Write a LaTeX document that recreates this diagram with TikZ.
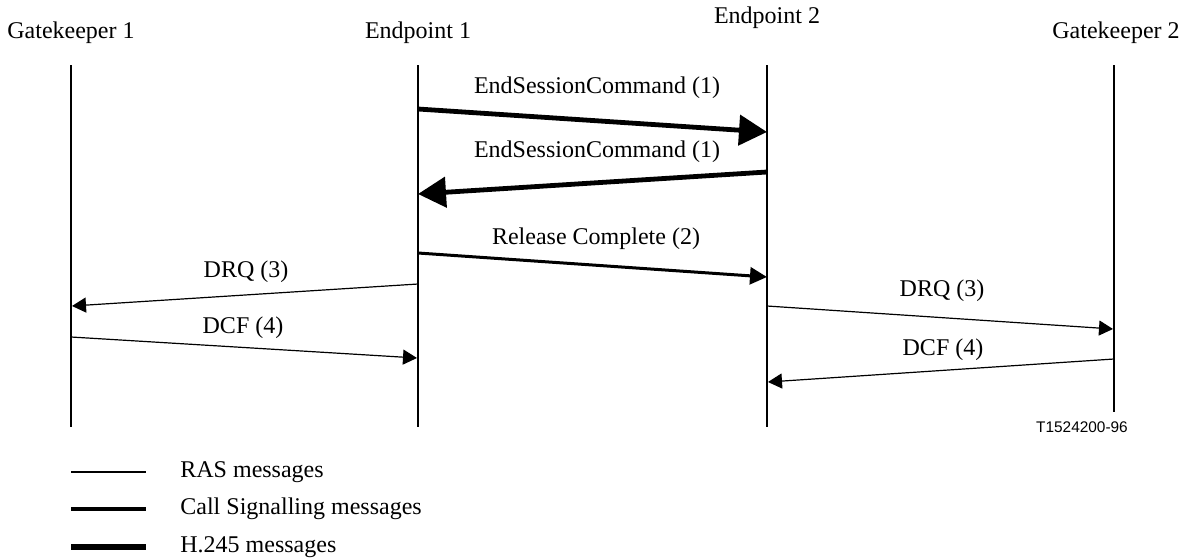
\documentclass[tikz,border=0pt]{standalone}
\usepackage{fontspec}
\setmainfont{Liberation Serif}
\newfontfamily\figsans{Liberation Sans}
\usetikzlibrary{arrows.meta}

\begin{document}
\begin{tikzpicture}[
  x=0.5pt,y=-0.5pt,
  every node/.style={font=\fontsize{12}{14}\selectfont,inner sep=0pt,align=center},
  life/.style={line width=1pt},
  ras/.style={line width=0.6pt,-{Triangle[length=7pt,width=7.5pt]}},
  sig/.style={line width=1.5pt,-{Triangle[length=8.5pt,width=8.5pt]}},
  ctl/.style={line width=2.4pt,-{Triangle[length=14pt,width=15pt]}},
  rasline/.style={line width=0.6pt},
  sigline/.style={line width=1.6pt},
  ctlline/.style={line width=2.6pt}
]
\useasboundingbox (0,0) rectangle (1190,558);

% entities
\node (gk1) at (71,33) {Gatekeeper 1};
\node (ep1) at (418,33) {Endpoint 1};
\node (ep2) at (767,18) {Endpoint 2};
\node (gk2) at (1116,33) {Gatekeeper 2};

% lifelines
\coordinate (gk1top) at (71,65);   \coordinate (gk1bot) at (71,427);
\coordinate (ep1top) at (418,65);  \coordinate (ep1bot) at (418,427);
\coordinate (ep2top) at (767,65);  \coordinate (ep2bot) at (767,427);
\coordinate (gk2top) at (1114,65); \coordinate (gk2bot) at (1114,412);
\draw[life] (gk1top) -- (gk1bot);
\draw[life] (ep1top) -- (ep1bot);
\draw[life] (ep2top) -- (ep2bot);
\draw[life] (gk2top) -- (gk2bot);

% message end points
\coordinate (esc1a) at (418,109); \coordinate (esc1b) at (767,132);
\coordinate (esc2a) at (767,172); \coordinate (esc2b) at (418,194);
\coordinate (rela) at (418,253);  \coordinate (relb) at (767,277);
\coordinate (drq1a) at (418,284); \coordinate (drq1b) at (72,306);
\coordinate (dcf1a) at (71,337);  \coordinate (dcf1b) at (417,358);
\coordinate (drq2a) at (767,306); \coordinate (drq2b) at (1113,329);
\coordinate (dcf2a) at (1114,359); \coordinate (dcf2b) at (768,382);

\draw[ctl] (esc1a) -- (esc1b);
\draw[ctl] (esc2a) -- (esc2b);
\draw[sig] (rela) -- (relb);
\draw[ras] (drq1a) -- (drq1b);
\draw[ras] (dcf1a) -- (dcf1b);
\draw[ras] (drq2a) -- (drq2b);
\draw[ras] (dcf2a) -- (dcf2b);

% message labels
\node (esc1) at (597,88) {EndSessionCommand (1)};
\node (esc2) at (597,152) {EndSessionCommand (1)};
\node (rel) at (596,239) {Release Complete (2)};
\node (drq1) at (246,272) {DRQ (3)};
\node (dcf1) at (243,328) {DCF (4)};
\node (drq2) at (942,291) {DRQ (3)};
\node (dcf2) at (943,350) {DCF (4)};
\node[font=\figsans\fontsize{7.7}{9}\selectfont] (fig) at (1082,427) {T1524200-96};

% legend
\draw[rasline] (71,472) -- (146,472);
\draw[sigline] (71,509) -- (146,509);
\draw[ctlline] (71,547) -- (146,547);
\node[anchor=west] (kras) at (180,472) {RAS messages};
\node[anchor=west] (ksig) at (180,509) {Call Signalling messages};
\node[anchor=west] (kctl) at (180,547) {H.245 messages};
\end{tikzpicture}
\end{document}
